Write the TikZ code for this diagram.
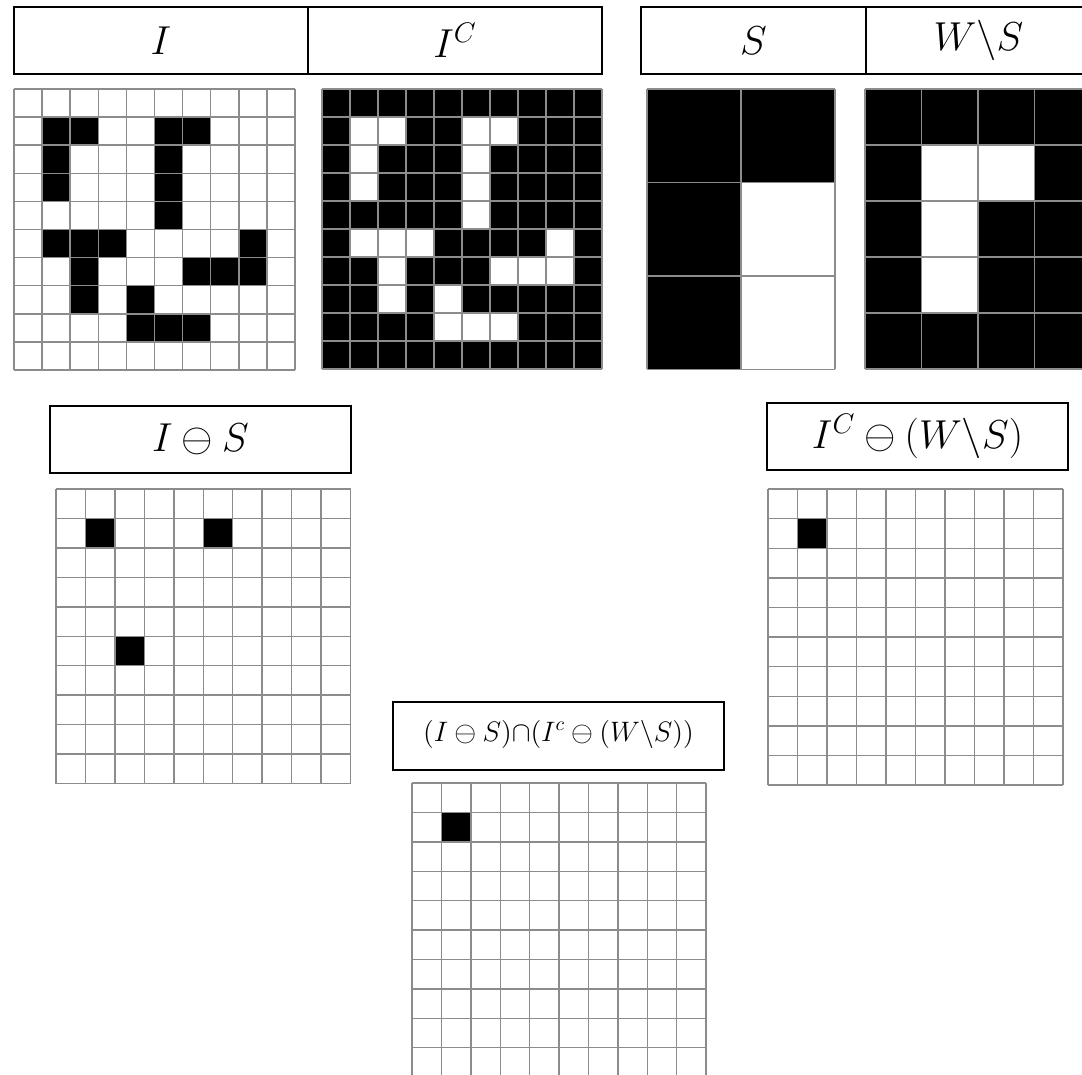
\documentclass[tikz,border=0pt]{standalone}
\usepackage{fix-cm}
\usepackage{tikz}

\tikzset{
  hdr/.style      = {line width = 1.2pt},
  gridline/.style = {draw = black!45, line width = 0.8pt},
  bigmath/.style  = {font = \fontsize{23}{28}\selectfont},
  midmath/.style  = {font = \fontsize{16}{19}\selectfont}
}

% grid lines: x0, y0, cols, rows, cell width, cell height
\newcommand{\pixgrid}[6]{%
  \foreach \i in {0,...,#3}
    \draw[gridline] ({#1+\i*#5},#2) -- ({#1+\i*#5},{#2+#4*#6});
  \foreach \j in {0,...,#4}
    \draw[gridline] (#1,{#2+\j*#6}) -- ({#1+#3*#5},{#2+\j*#6});
}
% filled cells: [colour] x0, y0, cell width, cell height, row/col list
\newcommand{\pixcells}[6][black]{%
  \foreach \row/\col in #6
    \fill[#1] ({#2+\col*#4},{#3+\row*#5}) rectangle ++(#4,#5);
}

% black pixels of I (row/col)
\newcommand{\cellsI}{1/1,1/2,1/5,1/6,2/1,2/5,3/1,3/5,4/5,5/1,5/2,5/3,5/8,6/2,6/6,6/7,6/8,7/2,7/4,8/4,8/5,8/6}
\newcommand{\cellsS}{0/0,0/1,1/0,2/0}
\newcommand{\cellsWS}{1/1,1/2,2/1,3/1}
\newcommand{\cellsEI}{1/1,1/5,5/2}
\newcommand{\cellsHit}{1/1}

\begin{document}
\begin{tikzpicture}[x=0.02cm, y=-0.02cm]
\useasboundingbox (0,0) rectangle (1082,1075);
\clip (0,0) rectangle (1082,1075);

% Headers I and I^C
\draw[hdr] (14,7) rectangle (308,74);
\draw[hdr] (308,7) rectangle (602,74);
\node[bigmath] (tI) at (161,40.5) {$I$};
\node[bigmath] (tIC) at (455,40.5) {$I^C$};

% Headers S and W\S
\draw[hdr] (641,7) rectangle (866,74);
\draw[hdr] (866,7) rectangle (1091,74);
\node[bigmath] (tS) at (753.5,40.5) {$S$};
\node[bigmath] (tWS) at (978.5,40.5) {$W\backslash S$};

% Image I
\pixcells{14}{89}{28.1}{28.1}{\cellsI}
\pixgrid{14}{89}{10}{10}{28.1}{28.1}

% Image I^C
\fill (322,89) rectangle (602,370);
\pixcells[white]{322}{89}{28}{28}{\cellsI}
\pixgrid{322}{89}{10}{10}{28}{28}

% Structuring element S
\pixcells{647}{89}{94}{93.4}{\cellsS}
\pixgrid{647}{89}{2}{3}{94}{93.4}

% Window minus S
\fill (865,89) rectangle (1091,369);
\pixcells[white]{865}{89}{56.5}{56}{\cellsWS}
\pixgrid{865}{89}{4}{5}{56.5}{56}

% Erosion of I
\draw[hdr] (50,406) rectangle (351,473);
\node[bigmath] (tIS) at (200.5,439.5) {$I \ominus S$};
\pixcells{56}{489}{29.45}{29.45}{\cellsEI}
\pixgrid{56}{489}{10}{10}{29.45}{29.45}

% Erosion of I^C
\draw[hdr] (767,403) rectangle (1068,470);
\node[bigmath] (tICWS) at (917.5,436.5) {$I^C \ominus (W\backslash S)$};
\pixcells{768}{489}{29.5}{29.6}{\cellsHit}
\pixgrid{768}{489}{10}{10}{29.5}{29.6}

% Hit-or-miss result
\draw[hdr] (393,702) rectangle (724,770);
\node[midmath] (tHit) at (558.5,734) {$(I \ominus S){\cap}(I^c \ominus (W\backslash S))$};
\pixcells{412}{783}{29.4}{29.4}{\cellsHit}
\pixgrid{412}{783}{10}{10}{29.4}{29.4}

\end{tikzpicture}
\end{document}
